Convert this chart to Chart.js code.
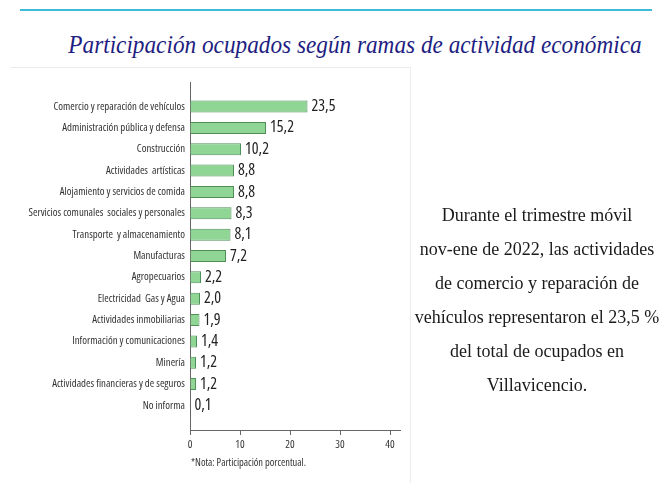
<!DOCTYPE html>
<html lang="es">
<head>
    <meta charset="UTF-8">
    <title>Participación ocupados según ramas de actividad económica</title>
    <style>
        body {
            margin: 0;
            width: 660px;
            height: 483px;
            background: #fff;
            position: relative;
            overflow: hidden;
        }
        .rule {
            position: absolute;
            left: 20px;
            top: 9px;
            width: 632px;
            height: 2px;
            background: #3bbbd8;
        }
        .title {
            position: absolute;
            left: 0;
            top: 28px;
            width: 710px;
            text-align: center;
            font-family: 'Liberation Serif', serif;
            font-style: italic;
            font-size: 25px;
            line-height: 34px;
            color: #1e1e82;
            white-space: nowrap;
            transform: scaleX(0.93);
            transform-origin: 355px 0;
        }
        .frame {
            position: absolute;
            left: 10px;
            top: 67px;
            width: 400px;
            height: 416px;
            border-top: 1px solid #ececec;
            border-right: 1px solid #ececec;
        }
        #chart {
            position: absolute;
            left: 10px;
            top: 68px;
        }
        .nota {
            position: absolute;
            left: 191px;
            top: 455px;
            font-family: 'Open Sans', sans-serif;
            font-stretch: condensed;
            font-size: 10.4px;
            color: #333;
        }
        .texto {
            position: absolute;
            left: 407px;
            top: 198px;
            width: 260px;
            text-align: center;
            font-family: 'Liberation Serif', serif;
            font-size: 18px;
            line-height: 34px;
            color: #1a1a1a;
            white-space: nowrap;
        }
    </style>
    <script src="https://cdn.jsdelivr.net/npm/chart.js"></script>
</head>
<body>
    <div class="rule"></div>
    <div class="title">Participación ocupados según ramas de actividad económica</div>
    <div class="frame"></div>
    <canvas id="chart" width="400" height="407"></canvas>
    <div class="nota">*Nota: Participación porcentual.</div>
    <div class="texto">
        Durante el trimestre móvil<br>
        nov-ene de 2022, las actividades<br>
        de comercio y reparación de<br>
        vehículos representaron el 23,5 %<br>
        del total de ocupados en<br>
        Villavicencio.
    </div>

    <script>
        // datos
        const categorias = [
            'Comercio y reparación de vehículos',
            'Administración pública y defensa',
            'Construcción',
            'Actividades  artísticas',
            'Alojamiento y servicios de comida',
            'Servicios comunales  sociales y personales',
            'Transporte  y almacenamiento',
            'Manufacturas',
            'Agropecuarios',
            'Electricidad  Gas y Agua',
            'Actividades inmobiliarias',
            'Información y comunicaciones',
            'Minería',
            'Actividades financieras y de seguros',
            'No informa'
        ];
        const participacion = [23.5, 15.2, 10.2, 8.8, 8.8, 8.3, 8.1, 7.2, 2.2, 2.0, 1.9, 1.4, 1.2, 1.2, 0.1];
        const ticksX = [0, 10, 20, 30, 40];

        const fuente = "'Open Sans', sans-serif";

        // etiquetas de valor al final de cada barra
        const etiquetas = {
            id: 'etiquetas',
            afterDatasetsDraw(chart) {
                const ctx = chart.ctx;
                const meta = chart.getDatasetMeta(0);
                ctx.save();
                ctx.font = '16px ' + fuente;
                ctx.fontStretch = 'condensed';
                ctx.fillStyle = '#222';
                ctx.textBaseline = 'middle';
                meta.data.forEach((bar, i) => {
                    const txt = participacion[i].toFixed(1).replace('.', ',');
                    ctx.fillText(txt, bar.x + 4, bar.y);
                });
                ctx.restore();
            }
        };

        new Chart(document.getElementById('chart'), {
            type: 'bar',
            data: {
                datasets: [{
                    data: participacion.map((v, i) => ({ x: v, y: i })),
                    backgroundColor: '#8fd694',
                    borderColor: '#4f8f5a',
                    borderWidth: 1,
                    barPercentage: 0.7,
                    categoryPercentage: 0.8
                }]
            },
            options: {
                indexAxis: 'y',
                responsive: false,
                animation: false,
                layout: { padding: { top: 14, right: 10, left: 0, bottom: 0 } },
                plugins: {
                    legend: { display: false },
                    tooltip: { enabled: false }
                },
                scales: {
                    y: {
                        type: 'linear',
                        reverse: true,
                        offset: false,
                        min: -1.15,
                        max: 15.15,
                        afterBuildTicks: s => { s.ticks = categorias.map((c, i) => ({ value: i })); },
                        afterFit: s => { s.width = 180; },
                        grid: { display: false, drawTicks: false },
                        border: { color: '#666', width: 1 },
                        ticks: {
                            autoSkip: false,
                            padding: 5,
                            color: '#333',
                            font: { family: fuente, size: 10.8, weight: 'condensed' },
                            callback: v => categorias[v]
                        }
                    },
                    x: {
                        type: 'linear',
                        min: 0,
                        max: 42,
                        afterBuildTicks: s => { s.ticks = ticksX.map(v => ({ value: v })); },
                        afterFit: s => { s.height = 45; },
                        grid: { drawOnChartArea: false, drawTicks: true, tickLength: 5, color: '#666' },
                        border: { color: '#666', width: 1 },
                        ticks: {
                            padding: 3,
                            color: '#333',
                            font: { family: fuente, size: 11, weight: 'condensed' }
                        }
                    }
                }
            },
            plugins: [etiquetas]
        });
    </script>
</body>
</html>
